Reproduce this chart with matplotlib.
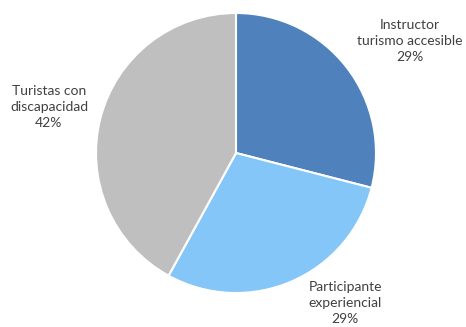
import matplotlib
matplotlib.use("Agg")
import matplotlib.pyplot as plt

categories = ["Instructor\nturismo accesible", "Participante\nexperiencial", "Turistas con\ndiscapacidad"]
values = [29, 29, 42]
colors = ["#4F81BD", "#85C6F8", "#BFBFBF"]
label_pos = [(1.243, 0.80), (0.779, -1.071), (-1.336, 0.329)]

plt.rcParams['font.family'] = ['Lato', 'DejaVu Sans']
fig = plt.figure(figsize=(4.66, 3.27), dpi=100)
ax = fig.add_axes([96/466, 34/327, 280/466, 280/327])
ax.pie(values, colors=colors, startangle=90, counterclock=False,
       wedgeprops=dict(edgecolor="white", linewidth=1.5))
ax.set_xlim(-1, 1)
ax.set_ylim(-1, 1)
ax.set_aspect("equal")
for cat, v, (x, y) in zip(categories, values, label_pos):
    ax.text(x, y, f"{cat}\n{v}%", ha="center", va="center", fontsize=10,
            color="#404040", linespacing=1.4, clip_on=False)
fig.savefig("out.png", dpi=100)
